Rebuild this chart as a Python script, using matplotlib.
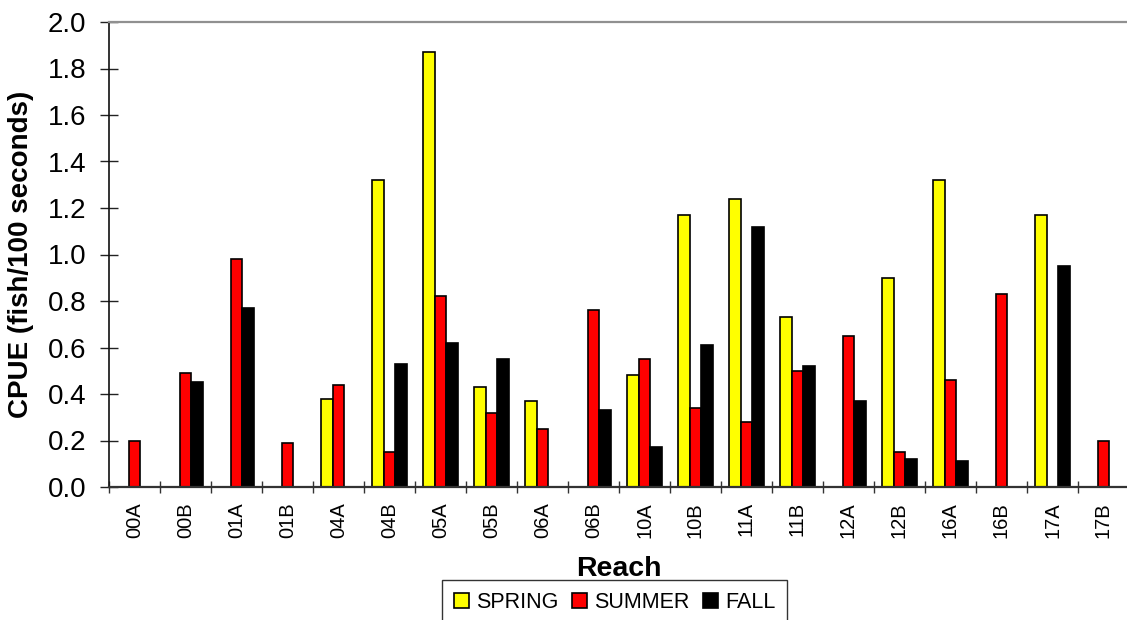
import numpy as np
import matplotlib.pyplot as plt

nan = np.nan

# Reach codes along the x axis
reaches = ["00A", "00B", "01A", "01B", "04A", "04B", "05A", "05B", "06A", "06B",
           "10A", "10B", "11A", "11B", "12A", "12B", "16A", "16B", "17A", "17B"]

# CPUE (fish/100 seconds) per season, nan = not sampled
spring = [nan, nan, nan, nan, 0.38, 1.32, 1.87, 0.43, 0.37, nan,
          0.48, 1.17, 1.24, 0.73, nan, 0.90, 1.32, nan, 1.17, nan]
summer = [0.20, 0.49, 0.98, 0.19, 0.44, 0.15, 0.82, 0.32, 0.25, 0.76,
          0.55, 0.34, 0.28, 0.50, 0.65, 0.15, 0.46, 0.83, nan, 0.20]
fall = [nan, 0.45, 0.77, nan, nan, 0.53, 0.62, 0.55, nan, 0.33,
        0.17, 0.61, 1.12, 0.52, 0.37, 0.12, 0.11, nan, 0.95, nan]

seasons = ["SPRING", "SUMMER", "FALL"]
colores = ["#ffff00", "#ff0000", "#000000"]

plt.rcParams["font.family"] = ["Liberation Sans", "DejaVu Sans"]

fig = plt.figure(figsize=(11.27, 6.2), dpi=100)
ax = fig.add_axes([109 / 1127, 1 - 487 / 620, 1020 / 1127, 465 / 620])

x = np.arange(len(reaches))
w = 0.228
for i, (serie, cor, nome) in enumerate(zip([spring, summer, fall], colores, seasons)):
    ax.bar(x + (i - 1) * w, np.array(serie, dtype=float), width=w, color=cor,
           edgecolor="black", linewidth=1.2, label=nome)

ax.set_xlim(-0.5, len(reaches) - 0.5)
ax.set_ylim(0, 2.0)
yt = np.arange(0, 2.01, 0.2)
ax.set_yticks(yt)
ax.set_yticklabels(["%.1f" % v for v in yt], fontsize=20)
ax.tick_params(axis="y", direction="inout", length=13, width=1, color="#222222", pad=10)

ax.set_xticks(x)
ax.set_xticklabels(reaches, rotation=90, fontsize=14.5)
ax.tick_params(axis="x", which="major", length=0, pad=11)
ax.set_xticks(np.arange(-0.5, len(reaches) - 1, 1.0), minor=True)
ax.tick_params(axis="x", which="minor", direction="inout", length=8, width=1, color="#333333")

ax.spines["left"].set_color("#111111")
ax.spines["left"].set_linewidth(1.2)
ax.spines["bottom"].set_color("#333333")
ax.spines["bottom"].set_linewidth(1.6)
ax.spines["top"].set_color("#909090")
ax.spines["top"].set_linewidth(1.6)
ax.spines["right"].set_visible(False)

ax.set_ylabel("CPUE (fish/100 seconds)", fontsize=20, fontweight="bold")
ax.yaxis.set_label_coords((34 - 109) / 1020, 0.5)
ax.set_xlabel("Reach", fontsize=20.5, fontweight="bold")
ax.xaxis.set_label_coords(0.5, -(556 - 487) / 465)

leg = fig.legend(loc="upper left", bbox_to_anchor=(442 / 1127, 1 - 580 / 620), ncol=3,
                 fontsize=15.5, frameon=True, fancybox=False, edgecolor="black",
                 handlelength=0.7, handleheight=0.7, handletextpad=0.35,
                 columnspacing=0.6, borderpad=0.55, borderaxespad=0)
leg.get_frame().set_linewidth(1.0)

fig.savefig("out.png", dpi=100)
